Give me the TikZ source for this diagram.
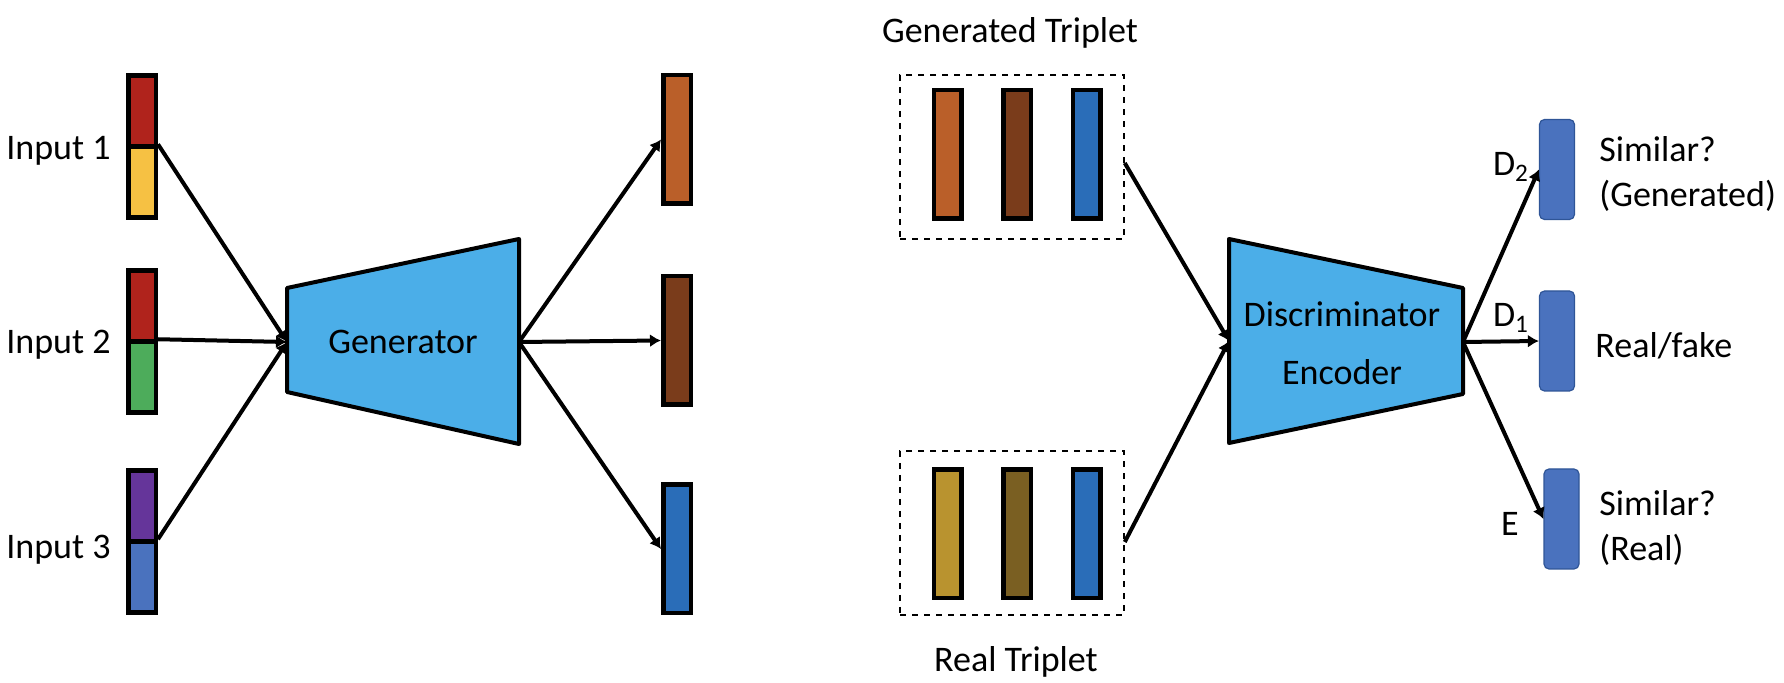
\documentclass[tikz,border=0pt]{standalone}
\usepackage{fontspec}
\setmainfont{Carlito}
\usetikzlibrary{arrows.meta}

\definecolor{cred}{HTML}{B0231C}
\definecolor{cyellow}{HTML}{F6C143}
\definecolor{cgreen}{HTML}{4DAC5B}
\definecolor{cpurple}{HTML}{65359A}
\definecolor{cblue}{HTML}{4A72BE}
\definecolor{netblue}{HTML}{4BAEE8}
\definecolor{corange}{HTML}{BA5F29}
\definecolor{cbrown}{HTML}{7A3C1B}
\definecolor{cdeep}{HTML}{2A6DB8}
\definecolor{cgold}{HTML}{B9932F}
\definecolor{colive}{HTML}{7A5F22}
\definecolor{headline}{HTML}{2F5597}

\begin{document}
\begin{tikzpicture}[x=0.5pt, y=-0.5pt,
  every node/.style={font=\fontsize{18pt}{22.5pt}\selectfont, inner sep=0pt},
  half/.style={draw=black, line width=2.25pt, minimum width=13.75pt, minimum height=35.6pt},
  vec/.style={draw=black, line width=2.25pt, minimum width=13.75pt, minimum height=64.25pt},
  head/.style={draw=headline, fill=cblue, line width=0.6pt, rounded corners=2.5pt, minimum width=17.5pt, minimum height=50pt},
  tripbox/.style={draw, dashed, line width=0.75pt, minimum width=112pt, minimum height=82pt},
  link/.style={-{Latex[length=5.5pt,width=6.5pt]}, line width=2pt},
  block/.style={draw, line width=2pt, fill=netblue, line join=round}]
\useasboundingbox (0,0) rectangle (1784,683);

% inputs
\node[half, fill=cred] (in1a) at (142,110.9) {};
\node[half, fill=cyellow] (in1b) at (142,182.1) {};
\node[half, fill=cred] (in2a) at (142,305.9) {};
\node[half, fill=cgreen] (in2b) at (142,377.1) {};
\node[half, fill=cpurple] (in3a) at (142,505.9) {};
\node[half, fill=cblue] (in3b) at (142,577.1) {};
\node[anchor=base east] (lab1) at (111,159.5) {Input 1};
\node[anchor=base east] (lab2) at (111,353.5) {Input 2};
\node[anchor=base east] (lab3) at (111,558.5) {Input 3};

% generator
\draw[block] (287,288) -- (519,239) -- (519,444) -- (287,392) -- cycle;
\node (gen) at (403,342) {Generator};
\coordinate (genL) at (287,342);
\coordinate (genR) at (519,342);
\draw[link] (in1b.north east) -- (genL);
\draw[link] (in2b.north east) -- (genL);
\draw[link] (in3b.north east) -- (genL);

% outputs
\node[vec, fill=corange] (out1) at (677,139.5) {};
\node[vec, fill=cbrown] (out2) at (677,340.5) {};
\node[vec, fill=cdeep] (out3) at (677,549) {};
\draw[link] (genR) -- (out1.west);
\draw[link] (genR) -- (out2.west);
\draw[link] (genR) -- (out3.west);

% triplets
\node[tripbox] (gtrip) at (1012,157) {};
\node[vec, fill=corange] (g1) at (947.5,154.5) {};
\node[vec, fill=cbrown] (g2) at (1017,154.5) {};
\node[vec, fill=cdeep] (g3) at (1086.5,154.5) {};
\node (gtitle) at (1010,33) {Generated Triplet};
\node[tripbox] (rtrip) at (1012,533) {};
\node[vec, fill=cgold] (r1) at (947.5,534) {};
\node[vec, fill=colive] (r2) at (1017,534) {};
\node[vec, fill=cdeep] (r3) at (1086.5,534) {};
\node (rtitle) at (1016,662) {Real Triplet};

% discriminator
\draw[block] (1229,239) -- (1463,288) -- (1463,394) -- (1229,443) -- cycle;
\node[align=center] (disc) at (1342,343) {Discriminator\\[6.5pt]Encoder};
\coordinate (discL) at (1229,341);
\coordinate (discR) at (1463,342);
\draw[link] ([yshift=-3pt]gtrip.east) -- (discL);
\draw[link] ([yshift=-4.5pt]rtrip.east) -- (discL);

% heads
\node[head] (hd2) at (1557,169.5) {};
\node[head] (hd1) at (1557,341) {};
\node[head] (he) at (1561.5,519) {};
\draw[link] (discR) -- (hd2.west);
\draw[link] (discR) -- (hd1.west);
\draw[link] (discR) -- (he.west);
\node (ld2) at (1511,167) {D\textsubscript{2}};
\node (ld1) at (1511,318) {D\textsubscript{1}};
\node (le) at (1510,524) {E};
\node[anchor=west, align=left] (t2) at (1599,174) {Similar?\\(Generated)};
\node[anchor=west] (t1) at (1595,346) {Real/fake};
\node[anchor=west, align=left] (te) at (1599,528) {Similar?\\(Real)};
\end{tikzpicture}
\end{document}
